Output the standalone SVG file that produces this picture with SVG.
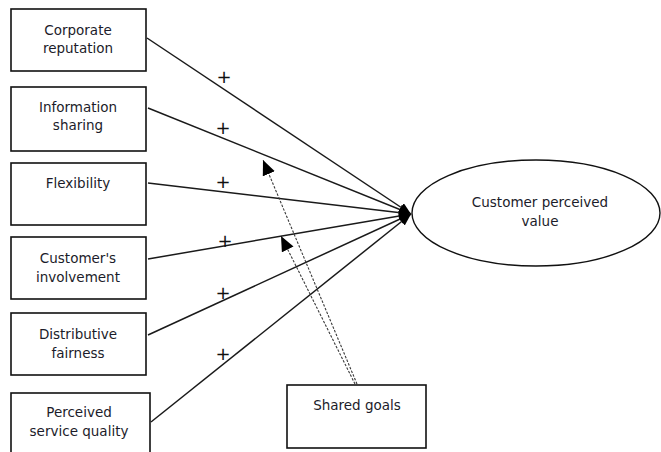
<svg xmlns="http://www.w3.org/2000/svg" width="661" height="452" viewBox="0 0 661 452">
  <defs>
    <style>
      .box { fill: #ffffff; stroke: #111111; stroke-width: 1.6; }
      .oval { fill: #ffffff; stroke: #111111; stroke-width: 1.4; }
      .lbl { font-family: "DejaVu Sans", Verdana, sans-serif; font-size: 13.5px; fill: #1c1c2a; text-anchor: middle; }
      .plus { font-family: "DejaVu Sans", sans-serif; font-size: 18px; fill: #111111; text-anchor: middle; }
      .path { fill: none; stroke: #1a1a1a; stroke-width: 1.5; marker-end: url(#head); }
      .mod { fill: none; stroke: #3a3a3a; stroke-width: 1.1; stroke-dasharray: 2.5 1.5; marker-end: url(#headSmall); }
    </style>
    <marker id="head" markerUnits="userSpaceOnUse" markerWidth="14" markerHeight="11" refX="12" refY="5" orient="auto">
      <path d="M0,0 L12,5 L0,10 Z" fill="#000000"/>
    </marker>
    <marker id="headSmall" markerUnits="userSpaceOnUse" markerWidth="18" markerHeight="14" refX="15" refY="6.5" orient="auto">
      <path d="M0,0 L15,6.5 L0,13 Z" fill="#000000"/>
    </marker>
  </defs>

  <!-- paths from each driver to the outcome, plus moderator arrows -->
  <g id="connectors">
    <line class="path" x1="147" y1="38" x2="411" y2="214"/>
    <line class="path" x1="148" y1="108" x2="411" y2="214"/>
    <line class="path" x1="148" y1="183" x2="411" y2="214"/>
    <line class="path" x1="148" y1="259" x2="411" y2="214"/>
    <line class="path" x1="148" y1="335" x2="411" y2="214"/>
    <line class="path" x1="151" y1="422" x2="411" y2="214"/>
    <line class="mod" x1="357" y1="384" x2="263" y2="160"/>
    <line class="mod" x1="355" y1="384" x2="281" y2="236"/>
    <text class="plus" x="224" y="83">+</text>
    <text class="plus" x="223" y="134">+</text>
    <text class="plus" x="223" y="188">+</text>
    <text class="plus" x="225" y="247">+</text>
    <text class="plus" x="223" y="299">+</text>
    <text class="plus" x="223" y="360">+</text>
  </g>

  <g id="corporate-reputation">
    <rect class="box" x="11" y="9" width="135" height="62"/>
    <text class="lbl" x="78" y="35">Corporate</text>
    <text class="lbl" x="78" y="53">reputation</text>
  </g>
  <g id="information-sharing">
    <rect class="box" x="11" y="87" width="135" height="64"/>
    <text class="lbl" x="78" y="112">Information</text>
    <text class="lbl" x="78" y="130">sharing</text>
  </g>
  <g id="flexibility">
    <rect class="box" x="11" y="163" width="135" height="62"/>
    <text class="lbl" x="78" y="188">Flexibility</text>
  </g>
  <g id="customers-involvement">
    <rect class="box" x="11" y="237" width="135" height="62"/>
    <text class="lbl" x="78" y="263">Customer's</text>
    <text class="lbl" x="78" y="282">involvement</text>
  </g>
  <g id="distributive-fairness">
    <rect class="box" x="11" y="313" width="135" height="62"/>
    <text class="lbl" x="78" y="339">Distributive</text>
    <text class="lbl" x="78" y="358">fairness</text>
  </g>
  <g id="perceived-service-quality">
    <rect class="box" x="11" y="393" width="139" height="64"/>
    <text class="lbl" x="79" y="417">Perceived</text>
    <text class="lbl" x="79" y="436">service quality</text>
  </g>
  <g id="shared-goals">
    <rect class="box" x="287" y="385" width="139" height="63"/>
    <text class="lbl" x="357" y="410">Shared goals</text>
  </g>
  <g id="customer-perceived-value">
    <ellipse class="oval" cx="536" cy="213" rx="124" ry="53"/>
    <text class="lbl" x="540" y="207">Customer perceived</text>
    <text class="lbl" x="540" y="226">value</text>
  </g>
</svg>
